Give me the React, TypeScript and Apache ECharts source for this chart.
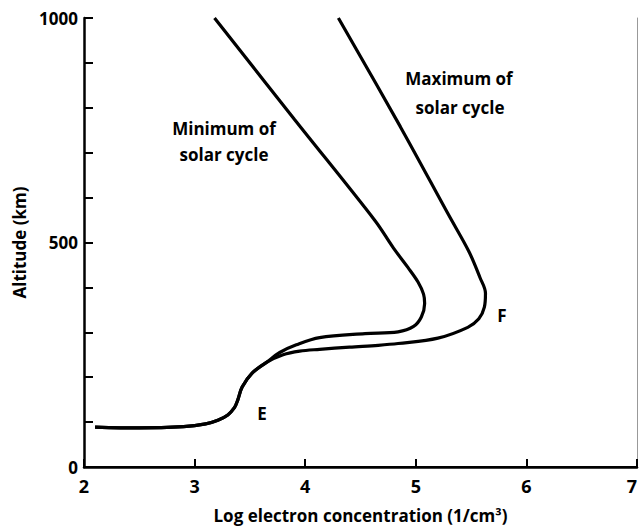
import React, { useEffect, useRef } from "react";
import * as echarts from "echarts";

// Log electron concentration (x) vs altitude in km (y)
const sharedBase: [number, number][] = [
  [2.10, 89], [2.5, 87], [2.9, 90], [3.1, 96], [3.21, 104], [3.30, 116],
  [3.36, 132], [3.39, 149], [3.43, 178], [3.52, 209], [3.65, 233],
];
const minimumUpper: [number, number][] = [
  [3.77, 255], [3.92, 272], [4.13, 288], [4.54, 297], [4.84, 301],
  [4.98, 313], [5.05, 334], [5.08, 364], [5.07, 385], [5.02, 412],
  [4.93, 444], [4.80, 487], [4.63, 549], [3.90, 775], [3.18, 1000],
];
const maximumUpper: [number, number][] = [
  [3.8, 250], [3.95, 258], [4.13, 262], [4.4, 267], [4.66, 271],
  [4.84, 275], [5.20, 287], [5.47, 311], [5.57, 330], [5.62, 356],
  [5.63, 387], [5.58, 422], [5.48, 480], [5.30, 560], [4.86, 758],
  [4.30, 1000],
];
const minimumCurve = [...sharedBase, ...minimumUpper];
const maximumCurve = [...sharedBase, ...maximumUpper];

const xTicks = [2, 3, 4, 5, 6, 7];
const yLabelled = [0, 500, 1000];

const FONT = "'Liberation Sans Narrow', 'Open Sans', 'Noto Sans', sans-serif";

export default function App() {
  const ref = useRef<HTMLDivElement>(null);
  useEffect(() => {
    if (!ref.current) return;
    const chart = echarts.init(ref.current, null, { renderer: "svg" });
    const textStyle = (t: string, x: number, y: number) => ({
      type: "text",
      x,
      y,
      style: {
        text: t,
        fill: "#000",
        font: `bold 17px ${FONT}`,
        textAlign: "center",
        textVerticalAlign: "middle",
      },
    });
    chart.setOption({
      animation: false,
      backgroundColor: "#fff",
      grid: { left: 84, right: 1, top: 18, bottom: 63, containLabel: false },
      xAxis: [
        {
          type: "value",
          min: 2,
          max: 7,
          interval: 1,
          position: "bottom",
          axisLine: { show: true, lineStyle: { color: "#000", width: 2.5 } },
          axisTick: { show: true, inside: true, length: 8, lineStyle: { color: "#000", width: 2 } },
          axisLabel: {
            color: "#000",
            fontSize: 18,
            fontWeight: "bold",
            fontFamily: FONT,
            margin: 10,
            alignMaxLabel: "right",
            formatter: (v: number) => (xTicks.includes(v) ? String(v) : ""),
          },
          splitLine: { show: false },
          name: "Log electron concentration (1/cm³)",
          nameLocation: "middle",
          nameGap: 40,
          nameTextStyle: { color: "#000", fontSize: 17, fontWeight: "bold", fontFamily: FONT },
        },
        {
          type: "value",
          min: 2,
          max: 7,
          position: "top",
          axisLine: { show: true, lineStyle: { color: "#000", width: 2 } },
          axisTick: { show: false },
          axisLabel: { show: false },
          splitLine: { show: false },
        },
      ],
      yAxis: [
        {
          type: "value",
          min: 0,
          max: 1000,
          interval: 100,
          position: "left",
          axisLine: { show: true, lineStyle: { color: "#000", width: 2.5 } },
          axisTick: { show: true, inside: true, length: 9, lineStyle: { color: "#000", width: 2 } },
          axisLabel: {
            color: "#000",
            fontSize: 17,
            fontWeight: "bold",
            fontFamily: FONT,
            margin: 6,
            formatter: (v: number) => (yLabelled.includes(v) ? String(v) : ""),
          },
          splitLine: { show: false },
          name: "Altitude (km)",
          nameLocation: "middle",
          nameGap: 54,
          nameTextStyle: { color: "#000", fontSize: 17, fontWeight: "bold", fontFamily: FONT },
        },
        {
          type: "value",
          min: 0,
          max: 1000,
          position: "right",
          axisLine: { show: true, lineStyle: { color: "#999", width: 1 } },
          axisTick: { show: false },
          axisLabel: { show: false },
          splitLine: { show: false },
        },
      ],
      series: [
        {
          name: "Minimum of solar cycle",
          type: "line",
          data: minimumCurve,
          showSymbol: false,
          smooth: 0.35,
          lineStyle: { color: "#000", width: 3.2 },
          xAxisIndex: 0,
          yAxisIndex: 0,
        },
        {
          name: "Maximum of solar cycle",
          type: "line",
          data: maximumCurve,
          showSymbol: false,
          smooth: 0.35,
          lineStyle: { color: "#000", width: 3.2 },
          xAxisIndex: 0,
          yAxisIndex: 0,
        },
      ],
      graphic: [
        textStyle("Minimum of", 224, 128),
        textStyle("solar cycle", 224, 154),
        textStyle("Maximum of", 459, 78),
        textStyle("solar cycle", 460, 107),
        textStyle("E", 262, 413),
        textStyle("F", 502, 315),
      ],
    });
    return () => chart.dispose();
  }, []);
  return (
    <div
      ref={ref}
      style={{ position: "absolute", left: 0, top: 0, width: 640, height: 530 }}
    />
  );
}
